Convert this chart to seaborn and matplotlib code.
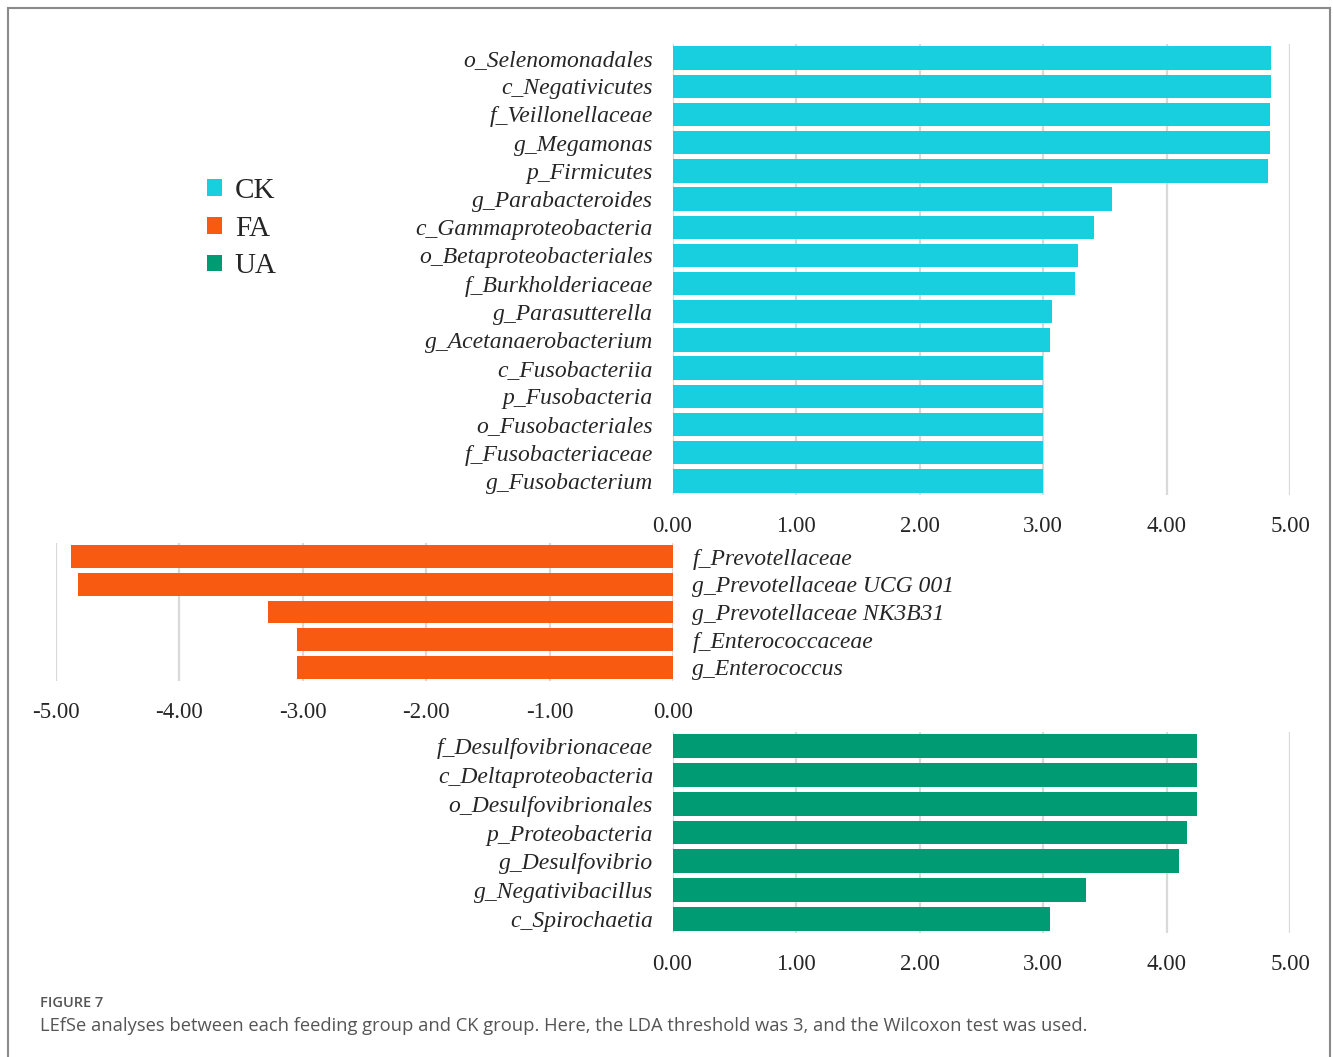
import matplotlib
matplotlib.use("Agg")
import matplotlib.pyplot as plt
from matplotlib.patches import Patch, Rectangle
import seaborn as sns
import pandas as pd

# LDA scores
ck_taxa = ["o_Selenomonadales", "c_Negativicutes", "f_Veillonellaceae", "g_Megamonas",
           "p_Firmicutes", "g_Parabacteroides", "c_Gammaproteobacteria",
           "o_Betaproteobacteriales", "f_Burkholderiaceae", "g_Parasutterella",
           "g_Acetanaerobacterium", "c_Fusobacteriia", "p_Fusobacteria",
           "o_Fusobacteriales", "f_Fusobacteriaceae", "g_Fusobacterium"]
ck_lda = [4.85, 4.85, 4.84, 4.84, 4.82, 3.56, 3.41, 3.28, 3.26, 3.07, 3.06,
          3.00, 3.00, 3.00, 3.00, 3.00]

fa_taxa = ["f_Prevotellaceae", "g_Prevotellaceae UCG 001", "g_Prevotellaceae NK3B31",
           "f_Enterococcaceae", "g_Enterococcus"]
fa_lda = [-4.88, -4.82, -3.28, -3.05, -3.05]

ua_taxa = ["f_Desulfovibrionaceae", "c_Deltaproteobacteria", "o_Desulfovibrionales",
           "p_Proteobacteria", "g_Desulfovibrio", "g_Negativibacillus", "c_Spirochaetia"]
ua_lda = [4.25, 4.25, 4.25, 4.17, 4.10, 3.35, 3.06]

groups = ["CK", "FA", "UA"]
colores = {"CK": "#17cfdf", "FA": "#f95a12", "UA": "#009b72"}

sns.set_style("white")
plt.rcParams["font.family"] = ["Liberation Serif", "DejaVu Serif"]

W, H = 1333, 1057
fig = plt.figure(figsize=(W / 100, H / 100), dpi=100)

def px_axes(x0, y0, x1, y1):
    # caja en pixeles (origen arriba a la izquierda) -> ejes de la figura
    return fig.add_axes([x0 / W, 1 - y1 / H, (x1 - x0) / W, (y1 - y0) / H])

def panel(ax, taxa, vals, color, xlim, ticks, right=False):
    df = pd.DataFrame({"taxon": taxa, "lda": vals})
    sns.barplot(data=df, x="lda", y="taxon", color=color, width=0.83,
                edgecolor="none", saturation=1, ax=ax)
    ax.set_xlim(*xlim)
    ax.set_xticks(ticks)
    ax.set_xticklabels([f"{t:.2f}" for t in ticks], fontsize=16.5)
    ax.set_xlabel("")
    ax.set_ylabel("")
    ax.grid(axis="x", color="#d9d9d9", lw=1.6, zorder=0)
    ax.set_axisbelow(True)
    for s in ax.spines.values():
        s.set_visible(False)
    ax.tick_params(axis="x", length=0, pad=15)
    if right:
        ax.yaxis.tick_right()
    ax.tick_params(axis="y", length=0, pad=14)
    for lab in ax.get_yticklabels():
        lab.set_fontstyle("italic")
        lab.set_fontsize(17)

ax1 = px_axes(672.5, 44, 1290, 495)
panel(ax1, ck_taxa, ck_lda, colores["CK"], (0, 5), [0, 1, 2, 3, 4, 5])

ax2 = px_axes(55.8, 543, 673, 681)
panel(ax2, fa_taxa, fa_lda, colores["FA"], (-5, 0), [-5, -4, -3, -2, -1, 0], right=True)

ax3 = px_axes(672.5, 732, 1290, 933)
panel(ax3, ua_taxa, ua_lda, colores["UA"], (0, 5), [0, 1, 2, 3, 4, 5])

handles = [Patch(facecolor=colores[g], edgecolor="none") for g in groups]
fig.legend(handles, groups, loc="upper left", bbox_to_anchor=(207 / W, 1 - 178 / H),
           frameon=False, fontsize=21, handlelength=0.5, handleheight=0.5,
           handletextpad=0.45, labelspacing=0.4, borderpad=0, borderaxespad=0)

# pie de figura
fig.text(40 / W, 1 - 1003 / H, "FIGURE 7", fontsize=10.5, color="#555555",
         family="Open Sans", weight="semibold", va="center")
fig.text(40 / W, 1 - 1026 / H,
         "LEfSe analyses between each feeding group and CK group. Here, the LDA threshold "
         "was 3, and the Wilcoxon test was used.",
         fontsize=13.2, color="#555555", family="Open Sans", va="center")

# marco exterior
fig.patches.append(Rectangle((8 / W, -0.02), (1330 - 8) / W, 1 - 8 / H + 0.02,
                             transform=fig.transFigure, fill=False,
                             edgecolor="#8a8a8a", lw=1.5))

fig.savefig("out.png", dpi=100)
